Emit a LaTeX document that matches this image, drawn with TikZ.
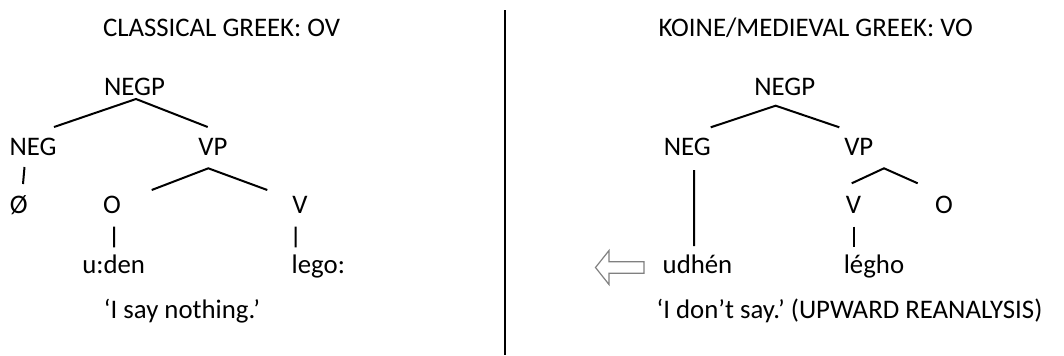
\documentclass[tikz,border=0pt]{standalone}
\usepackage{fontspec}
\setmainfont{Carlito}
\usetikzlibrary{calc}
\frenchspacing
\begin{document}
\begin{tikzpicture}[x=0.5pt,y=-0.5pt,
  lab/.style={anchor=base,inner sep=0pt,outer sep=0pt,font=\fontsize{13.4}{16}\selectfont},
  branch/.style={line width=1pt},
  divider/.style={line width=1.35pt},
  backarrow/.style={draw=black!50,line width=0.6pt,fill=white}]
\useasboundingbox (0,0) rectangle (1064,355);
% ---------- left: classical greek ----------
\node[lab] (t1) at (221.5,36) {CLASSICAL GREEK: OV};
\node[lab] (negp) at (134.5,95.7) {NEGP};
\node[lab] (neg) at (33,155) {NEG};
\node[lab] (vp) at (213,155) {VP};
\node[lab] (zero) at (18.7,213) {Ø};
\node[lab] (o) at (112,213) {O};
\node[lab] (v) at (300,213) {V};
\node[lab] (uden) at (113.7,273) {u:den};
\node[lab] (lego) at (318.3,273) {lego:};
\node[lab] (gl1) at (182,318) {‘I say nothing.’};
\draw[branch] ($(neg.base)+(21,-28)$) -- ($(negp.base)+(1.5,3.3)$) -- ($(vp.base)+(-5.3,-28)$);
\draw[branch] ($(o.base)+(39.7,-23)$) -- ($(vp.base)+(-4.7,13.3)$) -- ($(v.base)+(-32.7,-23)$);
\draw[branch] ($(neg.base)+(-8.5,12)$) -- ($(zero.base)+(4.3,-29)$);
\draw[branch] ($(o.base)+(2,13.7)$) -- ($(uden.base)+(0.3,-25.7)$);
\draw[branch] ($(v.base)+(-4.3,13.7)$) -- ($(lego.base)+(-22.6,-25.7)$);
% ---------- divider ----------
\coordinate (dtop) at (505,10);
\coordinate (dbot) at (505,355);
\draw[divider] (dtop) -- (dbot);
% ---------- right: koine/medieval greek ----------
\node[lab] (t2) at (815.7,36) {KOINE/MEDIEVAL GREEK: VO};
\node[lab] (negp2) at (784.7,95.7) {NEGP};
\node[lab] (neg2) at (687.3,155) {NEG};
\node[lab] (vp2) at (858.8,155) {VP};
\node[lab] (v2) at (853.5,213) {V};
\node[lab] (o2) at (944,213) {O};
\node[lab] (udhen) at (697.5,273) {udhén};
\node[lab] (legho) at (874,273) {légho};
\node[lab] (gl2) at (849.5,318) {‘I don’t say.’ (UPWARD REANALYSIS)};
\draw[branch] ($(neg2.base)+(23.4,-27.7)$) -- ($(negp2.base)+(-9,10)$) -- ($(vp2.base)+(-19.5,-27.7)$);
\draw[branch] ($(v2.base)+(-1.8,-29.7)$) -- ($(vp2.base)+(25.2,13.3)$) -- ($(o2.base)+(-26.3,-29.7)$);
\draw[branch] ($(neg2.base)+(6.7,15)$) -- ($(udhen.base)+(-3.5,-27)$);
\draw[branch] ($(v2.base)+(0.5,13.7)$) -- ($(legho.base)+(-20,-26)$);
% ---------- hollow arrow ----------
\draw[backarrow] (595.5,267.5) -- (609,250.5) -- (609,261.8) -- (644,261.8) -- (644,273.2) -- (609,273.2) -- (609,284.5) -- cycle;
\end{tikzpicture}
\end{document}
